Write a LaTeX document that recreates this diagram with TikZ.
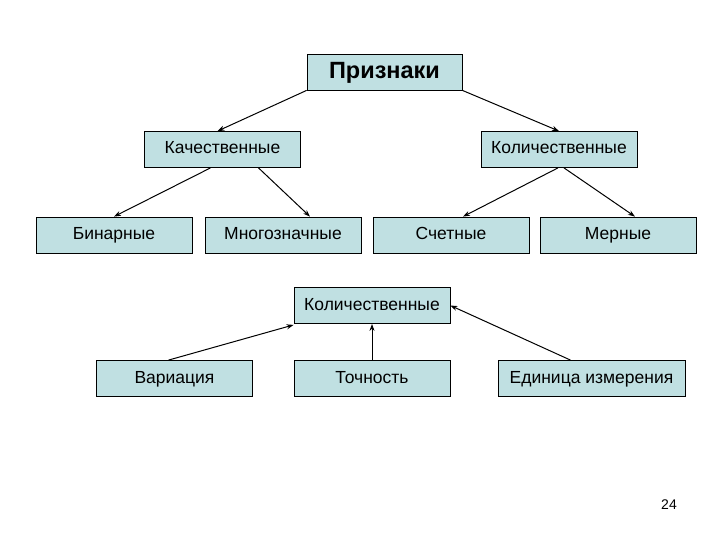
\documentclass[tikz,border=0pt]{standalone}
\usepackage{fontspec}
\setmainfont{Liberation Sans}
\usepackage{xcolor}
\usetikzlibrary{positioning, arrows.meta}

\definecolor{boxfill}{RGB}{192,224,226}

\begin{document}
\begin{tikzpicture}[
x=1pt, y=-1pt,
block/.style={
rectangle,
draw,
fill=boxfill,
line width=0.8pt,
minimum width=156pt,
minimum height=36pt,
inner sep=0pt,
text height=12.6pt,
text depth=3.6pt,
align=center,
font=\fontsize{17.5}{20}\selectfont
},
arrow/.style={
-{Stealth[length=7pt,width=5pt]},
line width=1pt
}
]
\useasboundingbox (0,0) rectangle (720,540);

\node[block, font=\fontsize{23.5}{26}\selectfont\bfseries, text height=17pt, text depth=4.5pt, minimum width=155pt] (priznaki) at (384.5,72) {Признаки};
\node[block] (kach) at (222.5,149.5) {Качественные};
\node[block] (kol) at (559,149.5) {Количественные};

\node[block] (binar) at (114,235) {Бинарные};
\node[block] (mnogo) at (283,235) {Многозначные};
\node[block] (schet) at (451,235) {Счетные};
\node[block] (mern) at (618,235) {Мерные};

\node[block] (kolvo) at (372,305.5) {Количественные};
\node[block] (variac) at (174.5,378.5) {Вариация};
\node[block] (tochn) at (372,378.5) {Точность};
\node[block, minimum width=187pt] (edin) at (591.5,378.5) {Единица измерения};

\node[font=\fontsize{14}{16}\selectfont] (page) at (669,505) {24};

\draw[arrow] (priznaki.south west) -- ([xshift=-5pt]kach.north);
\draw[arrow] (priznaki.south east) -- (kol.north);
\draw[arrow] ([xshift=-12pt]kach.south) -- (binar.north);
\draw[arrow] ([xshift=36pt]kach.south) -- ([xshift=27pt]mnogo.north);
\draw[arrow] ([xshift=-1pt]kol.south) -- ([xshift=12pt]schet.north);
\draw[arrow] ([xshift=5pt]kol.south) -- ([xshift=17pt]mern.north);

\draw[arrow] ([xshift=-6pt]variac.north) -- ([yshift=-1pt]kolvo.south west);
\draw[arrow] (tochn.north) -- (kolvo.south);
\draw[arrow] ([xshift=-21pt]edin.north) -- (kolvo.east);

\end{tikzpicture}
\end{document}
